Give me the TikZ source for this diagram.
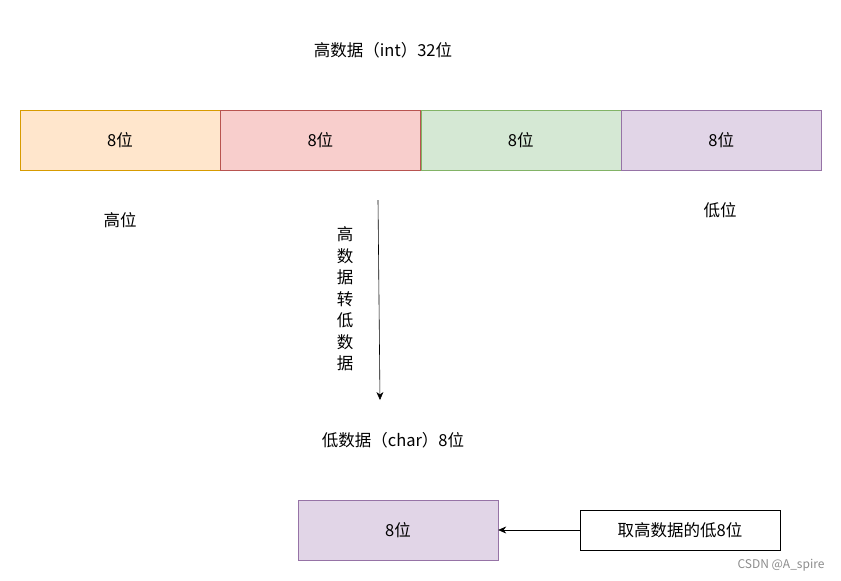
\documentclass[tikz,border=0pt]{standalone}
\usepackage{fontspec}
\setmainfont{Noto Sans CJK SC}
\usetikzlibrary{arrows.meta,positioning}

\definecolor{orangefill}{HTML}{FFE6CC}
\definecolor{orangeline}{HTML}{D79B00}
\definecolor{redfill}{HTML}{F8CECC}
\definecolor{redline}{HTML}{B85450}
\definecolor{greenfill}{HTML}{D5E8D4}
\definecolor{greenline}{HTML}{82B366}
\definecolor{purplefill}{HTML}{E1D5E7}
\definecolor{purpleline}{HTML}{9673A6}

\begin{document}
\begin{tikzpicture}[
  x=1pt, y=-1pt,
  font=\fontsize{16.5}{19}\selectfont,
  node distance=0pt,
  byte/.style={draw, minimum width=200pt, minimum height=60pt, inner sep=0pt},
  lbl/.style={inner sep=0pt},
  arr/.style={-{Stealth[length=8pt,width=7pt]}, semithick}]
\useasboundingbox (0,0) rectangle (841,581);
% high data, four bytes
\node[byte, fill=orangefill, draw=orangeline] (b1) at (120,140) {8位};
\node[byte, fill=redfill, draw=redline, right=of b1] (b2) {8位};
\node[byte, fill=greenfill, draw=greenline, right=of b2] (b3) {8位};
\node[byte, fill=purplefill, draw=purpleline, right=of b3] (b4) {8位};
\node[lbl] (title) at (383,50) {高数据（int）32位};
\node[lbl] (hi) at (120,220) {高位};
\node[lbl] (lo) at (720,210) {低位};
% conversion
\coordinate (top) at (378,200);
\coordinate (bot) at (380,400);
\draw[arr] (top) -- (bot);
\node[lbl, align=center, font=\fontsize{16.5}{21.5}\selectfont] (conv) at (345,299)
  {高\\数\\据\\转\\低\\数\\据};
% low data, one byte
\node[lbl] (ctitle) at (393,440) {低数据（char）8位};
\node[byte, fill=purplefill, draw=purpleline] (c1) at (398,530) {8位};
\node[draw, minimum width=200pt, minimum height=40pt] (note) at (680,530) {取高数据的低8位};
\draw[arr] (note) -- (c1);
\node[lbl, text=black!45, font=\fontsize{12}{14}\selectfont] (mark) at (781,565) {CSDN @A\_spire};
\end{tikzpicture}
\end{document}
